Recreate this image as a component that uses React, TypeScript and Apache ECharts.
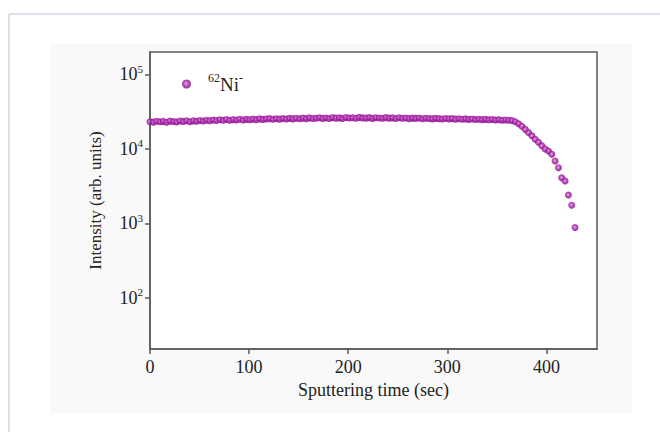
import React, { useEffect, useRef } from "react";
import * as echarts from "echarts";

const seriesName = "62Ni-";

const times = [
  0, 3.4, 6.7, 10.1, 13.4, 16.8, 20.1, 23.5, 26.8, 30.2,
  33.5, 36.9, 40.2, 43.6, 46.9, 50.3, 53.6, 57.0, 60.3, 63.7,
  67.0, 70.4, 73.7, 77.1, 80.4, 83.8, 87.1, 90.5, 93.8, 97.2,
  100.5, 103.9, 107.2, 110.6, 113.9, 117.3, 120.6, 124.0, 127.3, 130.7,
  134.0, 137.4, 140.7, 144.1, 147.4, 150.8, 154.1, 157.5, 160.8, 164.2,
  167.5, 170.9, 174.2, 177.6, 180.9, 184.3, 187.6, 191.0, 194.3, 197.7,
  201.0, 204.4, 207.7, 211.1, 214.4, 217.8, 221.1, 224.5, 227.8, 231.2,
  234.5, 237.9, 241.2, 244.6, 247.9, 251.3, 254.6, 258.0, 261.3, 264.7,
  268.0, 271.4, 274.7, 278.1, 281.4, 284.8, 288.1, 291.5, 294.8, 298.2,
  301.5, 304.9, 308.2, 311.6, 314.9, 318.3, 321.6, 325.0, 328.3, 331.7,
  335.0, 338.4, 341.7, 345.1, 348.4, 351.8, 355.1, 358.5, 361.8, 365.2,
  368.5, 371.9, 375.2, 378.6, 381.9, 385.3, 388.6, 392.0, 395.3, 398.7,
  402.0, 405.4, 408.7, 412.1, 415.4, 418.8, 422.1, 425.5, 428.8,
];

const intensity = [
  23200, 22900, 23500, 23100, 23400, 22800, 23600, 23300, 23000, 23700,
  23400, 23900, 23200, 23800, 23500, 24100, 23700, 24300, 23900, 24400,
  24000, 24600, 24200, 24800, 24300, 24700, 24500, 25000, 24400, 24900,
  24600, 25100, 24700, 25300, 24900, 25200, 25500, 25000, 25400, 25100,
  25600, 25200, 25700, 25300, 25800, 25400, 25900, 25500, 26100, 25600,
  25800, 26200, 25700, 26000, 25600, 26300, 25900, 26100, 25700, 26400,
  26000, 26200, 25800, 26500, 26100, 25900, 26300, 25700, 26200, 26000,
  25800, 26300, 25900, 26100, 25600, 26200, 25800, 26000, 25500, 25900,
  25700, 26000, 25400, 25800, 25600, 25300, 25700, 25500, 25200, 25600,
  25300, 25500, 25100, 25400, 25000, 25300, 24900, 25200, 24800, 25000,
  24700, 24900, 24600, 24800, 24500, 24700, 24300, 24500, 24200, 24000,
  23200, 21800, 20200, 18300, 16600, 15000, 13500, 12300, 11000, 10000,
  9400, 8500, 6900, 5600, 4100, 3700, 2400, 1750, 880,
];

const xTicks = [0, 100, 200, 300, 400];
const yTicks = [100, 1000, 10000, 100000];

const FONT = "'Liberation Serif', 'DejaVu Serif', serif";

export default function App() {
  const ref = useRef<HTMLDivElement>(null);
  useEffect(() => {
    if (!ref.current) return;
    const chart = echarts.init(ref.current, null, { renderer: "svg" });
    const data = times.map((t, i) => [t, intensity[i]]);
    const markerColor = new echarts.graphic.RadialGradient(0.45, 0.45, 0.6, [
      { offset: 0, color: "#dc98dc" },
      { offset: 0.5, color: "#a51aa5" },
      { offset: 1, color: "#7d007d" },
    ]);
    chart.setOption({
      animation: false,
      backgroundColor: "#ffffff",
      graphic: [
        {
          type: "rect",
          z: -10,
          shape: { x: 50, y: 44, width: 582, height: 369 },
          style: { fill: "#f9f9f9" },
          silent: true,
        },
        {
          type: "line",
          z: -5,
          shape: { x1: 9, y1: 14, x2: 660, y2: 14 },
          style: { stroke: "#d4d4ea", lineWidth: 1.5 },
          silent: true,
        },
        {
          type: "line",
          z: -5,
          shape: { x1: 9, y1: 14, x2: 9, y2: 432 },
          style: { stroke: "#d4d4ea", lineWidth: 1.5 },
          silent: true,
        },
      ],
      grid: {
        left: 150,
        right: 63,
        top: 52,
        bottom: 83,
        show: true,
        backgroundColor: "#ffffff",
        borderColor: "#5a5a5a",
        borderWidth: 1.5,
      },
      legend: {
        left: 182,
        top: 72,
        padding: 0,
        itemWidth: 9,
        itemHeight: 9,
        icon: "circle",
        data: [seriesName],
        formatter: () => "{g| }{sup|62}{n|Ni}{sup|-}",
        textStyle: {
          fontFamily: FONT,
          color: "#222",
          rich: {
            g: { width: 12, fontSize: 10, lineHeight: 24 },
            n: { fontSize: 19, lineHeight: 24, fontFamily: FONT, color: "#222" },
            sup: {
              fontSize: 12,
              lineHeight: 13,
              verticalAlign: "top",
              fontFamily: FONT,
              color: "#222",
            },
          },
        },
      },
      xAxis: {
        type: "value",
        min: 0,
        max: 451,
        name: "Sputtering time (sec)",
        nameLocation: "middle",
        nameGap: 27,
        nameTextStyle: { fontFamily: FONT, fontSize: 18, color: "#222" },
        axisLine: { show: true, lineStyle: { color: "#5a5a5a", width: 1.5 } },
        axisTick: {
          show: true,
          length: 5,
          customValues: xTicks,
          lineStyle: { color: "#5a5a5a", width: 1.5 },
        },
        axisLabel: {
          customValues: xTicks,
          margin: 9,
          fontFamily: FONT,
          fontSize: 18,
          color: "#222",
        },
        splitLine: { show: false },
      },
      yAxis: {
        type: "log",
        logBase: 10,
        min: 20.6,
        max: 200000,
        name: "Intensity (arb. units)",
        nameLocation: "middle",
        nameGap: 46,
        nameTextStyle: { fontFamily: FONT, fontSize: 17, color: "#222" },
        axisLine: { show: true, lineStyle: { color: "#5a5a5a", width: 1.5 } },
        axisTick: {
          show: true,
          length: 5,
          customValues: yTicks,
          lineStyle: { color: "#5a5a5a", width: 1.5 },
        },
        axisLabel: {
          customValues: yTicks,
          margin: 7,
          formatter: (v: number) => `{b|10}{s|${Math.round(Math.log10(v))}}`,
          rich: {
            b: { fontFamily: FONT, fontSize: 18, lineHeight: 22, color: "#222" },
            s: {
              fontFamily: FONT,
              fontSize: 11,
              lineHeight: 12,
              verticalAlign: "top",
              color: "#222",
            },
          },
        },
        splitLine: { show: false },
      },
      series: [
        {
          name: seriesName,
          type: "scatter",
          symbol: "circle",
          symbolSize: 7,
          data,
          itemStyle: { color: markerColor },
        },
      ],
    });
    return () => chart.dispose();
  }, []);
  return (
    <div
      ref={ref}
      style={{ position: "fixed", left: 0, top: 0, width: 660, height: 432 }}
    />
  );
}
